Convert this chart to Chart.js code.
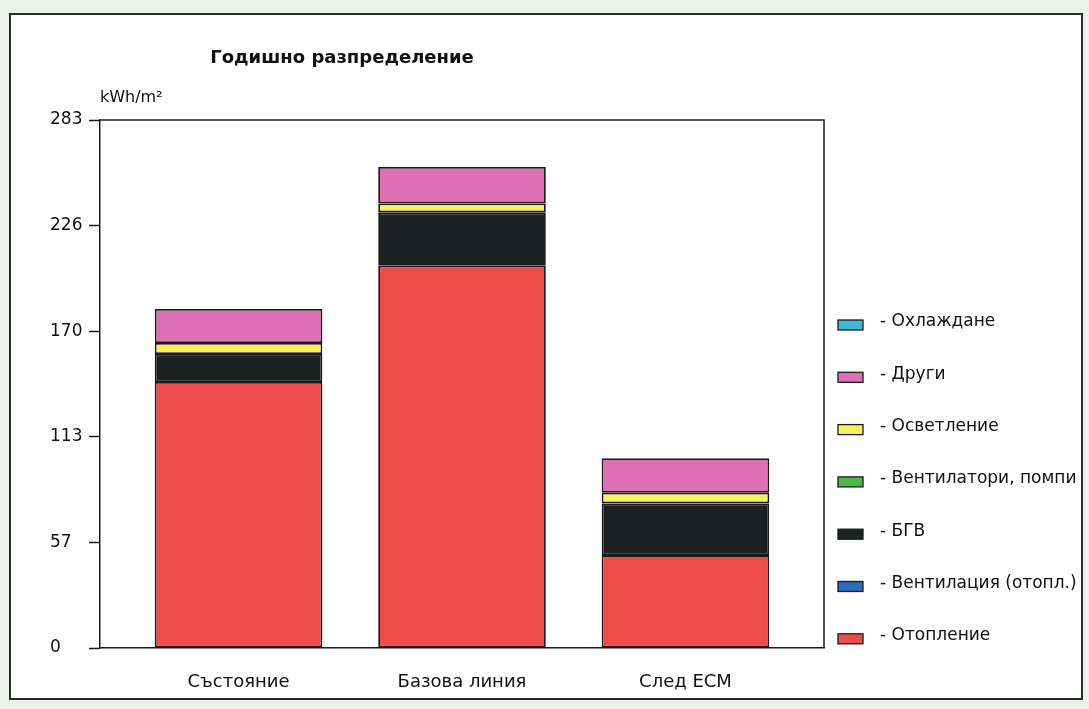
<!DOCTYPE html>
<html>
<head>
<meta charset="utf-8">
<script src="https://cdn.jsdelivr.net/npm/chart.js@4.4.1/dist/chart.umd.min.js"></script>
<style>
  html, body { margin: 0; padding: 0; background: #edf1ec; }
</style>
</head>
<body>
<canvas id="chart-bars" width="1089" height="709"></canvas>

<script>
// annual energy distribution, kWh/m2
var categories = ["Състояние", "Базова линия", "След ЕСМ"];
var heating = [142.6, 204.9, 49.8];     // Отопление
var ventHeating = [0, 0, 0];            // Вентилация (отопл.)
var hotWater = [15.0, 28.6, 27.7];      // БГВ
var fansPumps = [0, 0, 0];              // Вентилатори, помпи
var lighting = [5.9, 4.8, 5.7];         // Осветление
var other = [18.2, 19.6, 18.5];         // Други
var cooling = [0, 0, 0];                // Охлаждане

var yMax = 283;
var yTickLabels = ["0", "57", "113", "170", "226", "283"];

var FONT = "'DejaVu Sans', 'Liberation Sans', Arial, sans-serif";

function series(label, values, color) {
  return {
    label: label,
    data: values.map(function (v, i) { return { x: i, y: v }; }),
    backgroundColor: color,
    borderColor: "#1b1b1b",
    borderWidth: 1.8,
    borderSkipped: false,
    barPercentage: 0.75,
    categoryPercentage: 1.0,
  };
}

// frame, title, unit and legend drawn around the chart
var decorations = {
  id: "decorations",
  beforeDraw: function (chart) {
    var c = chart.ctx;
    c.save();
    c.fillStyle = "#edf1ec";
    c.fillRect(0, 0, chart.width, chart.height);
    c.fillStyle = "#ffffff";
    c.fillRect(10, 14, 1072, 685);
    c.strokeStyle = "#2a2a2a";
    c.lineWidth = 2;
    c.strokeRect(10, 14, 1072, 685);
    c.restore();
  },
  afterDraw: function (chart) {
    var c = chart.ctx;
    var a = chart.chartArea;
    c.save();
    // top and right edges of the plot box
    c.strokeStyle = "#1b1b1b";
    c.lineWidth = 1.5;
    c.beginPath();
    c.moveTo(a.left, a.top);
    c.lineTo(a.right, a.top);
    c.lineTo(a.right, a.bottom);
    c.stroke();

    c.fillStyle = "#111";
    c.textBaseline = "middle";
    c.textAlign = "center";
    c.font = "bold 18px " + FONT;
    c.fillText("Годишно разпределение", 342, 58);

    c.textAlign = "left";
    c.font = "16px " + FONT;
    c.fillText("kWh/m²", 100, 98);

    // legend, top to bottom in reverse stacking order
    c.beginPath();
    c.rect(10, 14, 1070, 685);
    c.clip();
    var ds = chart.data.datasets.slice().reverse();
    c.font = "17px " + FONT;
    ds.forEach(function (d, i) {
      var y = 322 + i * 52.3;
      c.fillStyle = d.backgroundColor;
      c.fillRect(838, y - 2, 25, 10);
      c.strokeStyle = "#1b1b1b";
      c.lineWidth = 1.3;
      c.strokeRect(838, y - 2, 25, 10);
      c.fillStyle = "#111";
      c.fillText("- " + d.label, 880, y);
    });
    c.restore();
  },
};

var ctx = document.getElementById("chart-bars").getContext("2d");
new Chart(ctx, {
  type: "bar",
  data: {
    datasets: [
      series("Отопление", heating, "#f04a4a"),
      series("Вентилация (отопл.)", ventHeating, "#2a6cc0"),
      series("БГВ", hotWater, "#1c2222"),
      series("Вентилатори, помпи", fansPumps, "#4cb84c"),
      series("Осветление", lighting, "#f5f05c"),
      series("Други", other, "#de70b6"),
      series("Охлаждане", cooling, "#40b8d8"),
    ],
  },
  options: {
    responsive: false,
    animation: false,
    layout: {
      padding: { left: 50, top: 120, right: 265, bottom: 0 },
    },
    plugins: {
      legend: { display: false },
      tooltip: { enabled: false },
    },
    scales: {
      x: {
        type: "linear",
        stacked: true,
        offset: false,
        min: -0.62,
        max: 2.62,
        afterBuildTicks: function (scale) {
          scale.ticks = categories.map(function (_, i) { return { value: i }; });
        },
        afterFit: function (scale) { scale.height = 61; },
        grid: { display: false, drawTicks: false, offset: false },
        border: { display: true, color: "#1b1b1b", width: 1.5 },
        ticks: {
          autoSkip: false,
          maxRotation: 0,
          padding: 24,
          color: "#111",
          font: { family: FONT, size: 18 },
          callback: function (value) { return categories[value]; },
        },
      },
      y: {
        stacked: true,
        min: 0,
        max: yMax,
        afterBuildTicks: function (scale) {
          scale.ticks = yTickLabels.map(function (_, i) { return { value: yMax * i / 5 }; });
        },
        afterFit: function (scale) { scale.width = 50; },
        grid: {
          display: true,
          drawOnChartArea: false,
          drawTicks: true,
          tickLength: 11,
          tickColor: "#1b1b1b",
          tickWidth: 1.5,
        },
        border: { display: true, color: "#1b1b1b", width: 1.5 },
        ticks: {
          crossAlign: "far",
          color: "#111",
          font: { family: FONT, size: 17 },
          callback: function (value, index) { return yTickLabels[index]; },
        },
      },
    },
  },
  plugins: [decorations],
});
</script>
</body>
</html>
